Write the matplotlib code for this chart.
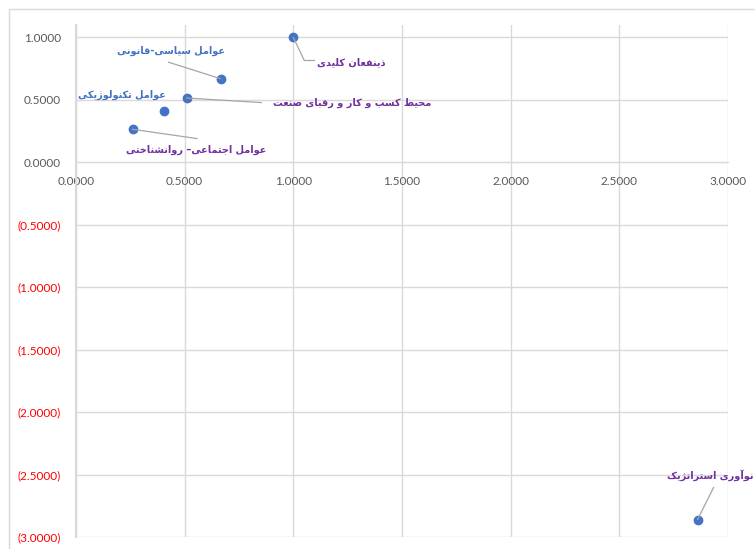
import matplotlib
matplotlib.use("Agg")
import matplotlib.pyplot as plt
from matplotlib.lines import Line2D
from matplotlib.patches import Rectangle
from matplotlib.ticker import FuncFormatter, MultipleLocator
import numpy as np

# factors (x, y) in the strategy position chart
labels = [
    "ذینفعان کلیدی",
    "عوامل سیاسی-قانونی",
    "محیط کسب و کار و رقبای صنعت",
    "عوامل تکنولوژیکی",
    "عوامل اجتماعی– روانشناختی",
    "نوآوری استراتژیک",
]
x_vals = [1.0, 0.665, 0.51, 0.405, 0.26, 2.86]
y_vals = [1.0, 0.67, 0.515, 0.41, 0.265, -2.86]
label_colors = ["#7030A0", "#4472C4", "#7030A0", "#4472C4", "#7030A0", "#7030A0"]

# label placement in pixels relative to the point, plus leader polylines
label_offsets = [(58, -25, "center"), (-50, 28, "center"), (165, -4.5, "center"),
                 (-42, 16.5, "center"), (64, -21, "center"), (56, 44, "right")]
leaders = [
    [(0, 0), (11, -23), (21, -23)],
    [(0, 0), (-52, 16.5)],
    [(0, 0), (74.5, -4.5)],
    None,
    [(0, 0), (64.5, -9.3)],
    [(0, 0), (16, 32)],
]

# contextual forms: isolated, final, initial, medial
FORMS = {
    "ا": ("\uFE8D", "\uFE8E", None, None),
    "آ": ("\uFE81", "\uFE82", None, None),
    "ب": ("\uFE8F", "\uFE90", "\uFE91", "\uFE92"),
    "ت": ("\uFE95", "\uFE96", "\uFE97", "\uFE98"),
    "ج": ("\uFE9D", "\uFE9E", "\uFE9F", "\uFEA0"),
    "ح": ("\uFEA1", "\uFEA2", "\uFEA3", "\uFEA4"),
    "خ": ("\uFEA5", "\uFEA6", "\uFEA7", "\uFEA8"),
    "د": ("\uFEA9", "\uFEAA", None, None),
    "ذ": ("\uFEAB", "\uFEAC", None, None),
    "ر": ("\uFEAD", "\uFEAE", None, None),
    "ز": ("\uFEAF", "\uFEB0", None, None),
    "ژ": ("\uFB8A", "\uFB8B", None, None),
    "س": ("\uFEB1", "\uFEB2", "\uFEB3", "\uFEB4"),
    "ش": ("\uFEB5", "\uFEB6", "\uFEB7", "\uFEB8"),
    "ص": ("\uFEB9", "\uFEBA", "\uFEBB", "\uFEBC"),
    "ط": ("\uFEC1", "\uFEC2", "\uFEC3", "\uFEC4"),
    "ع": ("\uFEC9", "\uFECA", "\uFECB", "\uFECC"),
    "ف": ("\uFED1", "\uFED2", "\uFED3", "\uFED4"),
    "ق": ("\uFED5", "\uFED6", "\uFED7", "\uFED8"),
    "ک": ("\uFB8E", "\uFB8F", "\uFB90", "\uFB91"),
    "ل": ("\uFEDD", "\uFEDE", "\uFEDF", "\uFEE0"),
    "م": ("\uFEE1", "\uFEE2", "\uFEE3", "\uFEE4"),
    "ن": ("\uFEE5", "\uFEE6", "\uFEE7", "\uFEE8"),
    "ه": ("\uFEE9", "\uFEEA", "\uFEEB", "\uFEEC"),
    "و": ("\uFEED", "\uFEEE", None, None),
    "ی": ("\uFBFC", "\uFBFD", "\uFBFE", "\uFBFF"),
}


def shape_rtl(text):
    out = []
    n = len(text)
    for i, ch in enumerate(text):
        if ch not in FORMS:
            out.append(ch)
            continue
        prev = text[i - 1] if i > 0 else ""
        nxt = text[i + 1] if i < n - 1 else ""
        join_prev = prev in FORMS and FORMS[prev][2] is not None
        join_next = nxt in FORMS and FORMS[ch][2] is not None
        iso, fin, ini, med = FORMS[ch]
        if join_prev and join_next:
            out.append(med)
        elif join_prev:
            out.append(fin)
        elif join_next:
            out.append(ini)
        else:
            out.append(iso)
    return "".join(reversed(out))


W, H = 755, 549
fig = plt.figure(figsize=(W / 100, H / 100), dpi=100)
ax = fig.add_axes([76 / W, 1 - 537 / H, (728 - 76) / W, (537 - 25) / H])

# chart area border
fig.patches.append(Rectangle((9 / W, -0.1), 1.2, 1 - 9 / H + 0.1, transform=fig.transFigure,
                             fill=False, edgecolor="#d9d9d9", linewidth=1.0))

ax.set_xlim(0, 3.0)
ax.set_ylim(-3.0, 1.1)
ax.xaxis.set_major_locator(MultipleLocator(0.5))
ax.yaxis.set_major_locator(MultipleLocator(0.5))
ax.grid(True, color="#d9d9d9", linewidth=1.0)
ax.set_axisbelow(True)

for side in ["top", "right"]:
    ax.spines[side].set_visible(False)
ax.spines["bottom"].set_position(("data", 0))
ax.spines["bottom"].set_color("#d9d9d9")
ax.spines["left"].set_color("#d9d9d9")
ax.spines["left"].set_linewidth(1.5)

ax.tick_params(axis="both", length=0, labelsize=8.5, labelcolor="#595959")
ax.tick_params(axis="x", pad=10)
ax.tick_params(axis="y", pad=11)
ax.xaxis.set_major_formatter(FuncFormatter(lambda v, p: f"{v:.4f}"))
ax.yaxis.set_major_formatter(FuncFormatter(lambda v, p: f"({abs(v):.4f})" if v < -1e-9 else f"{abs(v):.4f}"))
for t in ax.get_xticklabels() + ax.get_yticklabels():
    t.set_fontfamily("Lato")
fig.canvas.draw()
for t, v in zip(ax.get_yticklabels(), ax.get_yticks()):
    if v < -1e-9:
        t.set_color("#FF0000")

ax.scatter(x_vals, y_vals, s=36, color="#4472C4", zorder=3, clip_on=False)

fig.canvas.draw()
inv = fig.transFigure.inverted()
for lab, x, y, col, (dx, dy, ha), lead in zip(labels, x_vals, y_vals, label_colors,
                                               label_offsets, leaders):
    ax.annotate(shape_rtl(lab), (x, y), xytext=(dx, dy), textcoords="offset pixels",
                ha=ha, va="center", fontsize=7, fontweight="bold", color=col,
                family="DejaVu Sans", annotation_clip=False)
    if lead:
        px, py = ax.transData.transform((x, y))
        pts = np.array([(px + ox, py + oy) for ox, oy in lead])
        fpts = inv.transform(pts)
        fig.lines.append(Line2D(fpts[:, 0], fpts[:, 1], transform=fig.transFigure,
                                color="#a6a6a6", linewidth=0.9, zorder=2))

fig.savefig("out.png", dpi=100)
